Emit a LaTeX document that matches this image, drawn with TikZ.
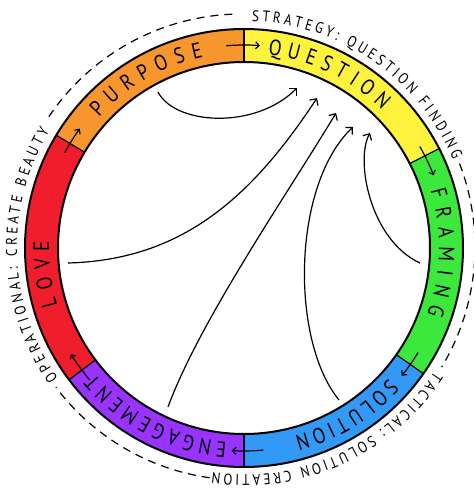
\documentclass[tikz,border=0pt]{standalone}
\usepackage{fontspec}
\setmainfont{PT Sans}
\newfontfamily\handfont[FakeStretch=0.85]{PT Sans}
\usetikzlibrary{decorations.text,arrows.meta}
\definecolor{cPurpose}{HTML}{F7962D}
\definecolor{cQuestion}{HTML}{FFF33D}
\definecolor{cFraming}{HTML}{3BE83B}
\definecolor{cSolution}{HTML}{3399F7}
\definecolor{cEngage}{HTML}{9933FF}
\definecolor{cLove}{HTML}{F01E2C}
\newcommand\segfont{\handfont\fontsize{22}{22}\selectfont}
\newcommand\outfont{\handfont\fontsize{15.5}{15.5}\selectfont}
\begin{document}
\begin{tikzpicture}[x=1pt,y=1pt,
  ringline/.style={line width=2pt},
  flow/.style={line width=1.2pt,-{Straight Barb[length=5pt,width=10pt]}},
  tickarrow/.style={line width=1.2pt,-{Straight Barb[length=3.5pt,width=7pt]}},
  dashline/.style={line width=1.2pt,dash pattern=on 8pt off 6pt},
  seglabel/.style={decorate,decoration={text along path,text align={fit to path},text={|\segfont|#1}}},
  outlabel/.style={decorate,decoration={text along path,text align={fit to path},text={|\outfont|#1}}},
]
\useasboundingbox (0,0) rectangle (474,-491);
\newcommand\ringseg[3]{\fill[#3] (#1:219) arc[start angle=#1,end angle=#2,radius=219] -- (#2:186) arc[start angle=#2,end angle=#1,radius=186] -- cycle;}
% ring
\begin{scope}[shift={(244,-248)}]
  \ringseg{27}{90}{cQuestion}
  \ringseg{90}{149}{cPurpose}
  \ringseg{149}{217}{cLove}
  \ringseg{217}{270}{cEngage}
  \ringseg{270}{325}{cSolution}
  \ringseg{325}{387}{cFraming}
  \draw[ringline] (0,0) circle[radius=219];
  \draw[ringline] (0,0) circle[radius=186];
  \foreach \a in {27,90,149,217,270,325} \draw[line width=1.2pt] (\a:186) -- (\a:219);
  % segment labels
  \path[seglabel=PURPOSE] (138:195) arc[start angle=138,end angle=102,radius=195];
  \path[seglabel=QUESTION] (83:195) arc[start angle=83,end angle=45,radius=195];
  \path[seglabel=FRAMING] (17:195) arc[start angle=17,end angle=-20,radius=195];
  \path[seglabel=SOLUTION] (-42:195) arc[start angle=-42,end angle=-75,radius=195];
  \path[seglabel=ENGAGEMENT] (265:195) arc[start angle=265,end angle=220,radius=195];
  \path[seglabel=LOVE] (197:195) arc[start angle=197,end angle=178,radius=195];
  % boundary arrows
  \draw[tickarrow] (152:203) arc[start angle=152,end angle=144,radius=203];
  \draw[tickarrow] (95:203) arc[start angle=95,end angle=85.5,radius=203];
  \draw[tickarrow] (30:203) arc[start angle=30,end angle=21,radius=203];
  \draw[tickarrow] (-31:203) arc[start angle=-31,end angle=-39,radius=203];
  \draw[tickarrow] (-84.5:203) arc[start angle=-84.5,end angle=-93.5,radius=203];
  \draw[tickarrow] (220.5:203) arc[start angle=220.5,end angle=211.5,radius=203];
  % outer texts
  \path[outlabel={STRATEGY: QUESTION FINDING}] (88:227) arc[start angle=88,end angle=23,radius=227];
  \path[outlabel={TACTICAL: SOLUTION CREATION}] (-33:227) arc[start angle=-33,end angle=-98,radius=227];
  \path[outlabel={OPERATIONAL: CREATE BEAUTY}] (215:227) arc[start angle=215,end angle=149,radius=227];
\end{scope}
% dashed arcs
\begin{scope}[shift={(242,-247)}]
  \draw[dashline] (146:233) arc[start angle=146,end angle=91,radius=233];
  \draw[dashline] (21:233) arc[start angle=21,end angle=-31,radius=233];
  \draw[dashline] (-98:233) arc[start angle=-98,end angle=-143,radius=233];
\end{scope}
% inner flows
\coordinate (f1s) at (158,-92);  \coordinate (f1e) at (297,-88);
\coordinate (f2s) at (68,-263);  \coordinate (f2e) at (317,-98);
\coordinate (f3s) at (168,-407); \coordinate (f3e) at (336,-113);
\coordinate (f4s) at (339,-400); \coordinate (f4e) at (353,-127);
\coordinate (f5s) at (420,-263); \coordinate (f5e) at (370,-133);
\draw[flow] (f1s) .. controls (175,-125) and (255,-130) .. (f1e);
\draw[flow] (f2s) .. controls (180,-260) and (250,-200) .. (f2e);
\draw[flow] (f3s) .. controls (200,-320) and (290,-190) .. (f3e);
\draw[flow] (f4s) .. controls (290,-340) and (292,-185) .. (f4e);
\draw[flow] (f5s) .. controls (370,-240) and (355,-160) .. (f5e);
\end{tikzpicture}
\end{document}
